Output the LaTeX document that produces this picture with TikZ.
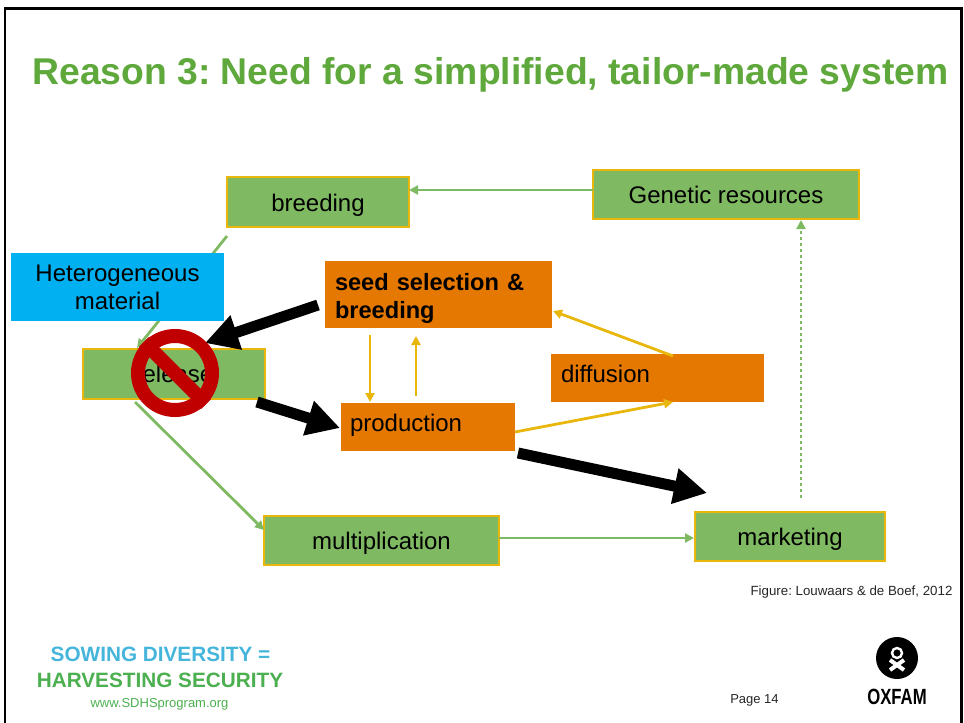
\documentclass[tikz,border=0pt]{standalone}
\usepackage{fontspec}
\setmainfont{Liberation Sans}
\frenchspacing
\usetikzlibrary{arrows.meta}
\definecolor{boxgreen}{HTML}{7FBA63}
\definecolor{boxedge}{HTML}{E9B60C}
\definecolor{boxorange}{HTML}{E57800}
\definecolor{boxblue}{HTML}{00B0F0}
\definecolor{titlegreen}{HTML}{5FA83B}
\definecolor{logoblue}{HTML}{45B5DB}
\definecolor{logogreen}{HTML}{4CAF50}
\definecolor{stopred}{HTML}{C00000}
\newcommand{\movetext}[2]{\raisebox{#1}[\height][\depth]{#2}}
\tikzset{
  plainbox/.style={minimum width=#1, inner sep=0pt, outer sep=0pt, font={\fontsize{24}{28}\selectfont}},
  greenbox/.style={plainbox=#1, fill=boxgreen, draw=boxedge, line width=1.1pt},
  orangebox/.style={plainbox=#1, fill=boxorange, align=left},
  greenline/.style={draw=boxgreen, line width=2.8pt, -{Triangle[length=9pt,width=9pt]}},
  yellowline/.style={draw=boxedge, line width=2.8pt, -{Triangle[length=9pt,width=9pt]}},
  blackarrow/.style={draw=black, line width=11pt, -{Triangle[length=33pt,width=34pt]}}
}
\begin{document}
\begin{tikzpicture}[x=1pt, y=-1pt]
  \useasboundingbox (0,0) rectangle (964,723);

  % Frame
  \draw[line width=2.6pt] (5,723) -- (5,8.5) -- (961.5,8.5) -- (961.5,723);

  % Title
  \node (title) at (490.5,75) {\fontsize{37.3}{42}\selectfont\bfseries\color{titlegreen} Reason 3: Need for a simplified, tailor-made system};

  % Green boxes
  \node[greenbox=182pt, minimum height=50pt] (breeding) at (318,202) {\movetext{-3pt}{breeding}};
  \node[greenbox=266pt, minimum height=49pt] (genetic) at (726,194.5) {Genetic resources};
  \node[greenbox=182pt, minimum height=50pt] (release) at (174,374) {release};
  \node[greenbox=235pt, minimum height=49pt] (multiplication) at (381.5,540.5) {\movetext{-3pt}{multiplication}};
  \node[greenbox=190pt, minimum height=49pt] (marketing) at (790,536.5) {\movetext{-3pt}{marketing}};

  % Green connectors
  \draw[greenline] ([yshift=-9pt]breeding.south west) -- ([xshift=-37pt,yshift=1pt]release.north);
  \draw[greenline] ([xshift=-39pt,yshift=-3pt]release.south) -- ([yshift=10.5pt]multiplication.west);
  \draw[greenline] ([yshift=2.5pt]multiplication.east) -- ([xshift=-1pt,yshift=-1.5pt]marketing.west);
  \draw[greenline, dash pattern=on 3pt off 3pt] ([xshift=11pt,yshift=14pt]marketing.north) -- ([xshift=75pt,yshift=-1pt]genetic.south);
  \draw[greenline] ([yshift=4.5pt]genetic.west) -- ([yshift=12pt]breeding.east);

  % Blue box
  \node[plainbox=213pt, minimum height=68pt, fill=boxblue, align=center] (material) at (117.5,287) {Heterogeneous\\material};

  % Orange boxes
  \node[orangebox=227pt, minimum height=67pt, text width=207pt] (selection) at (438.5,294.5) {\fontsize{23.6}{28}\selectfont\bfseries\movetext{-4pt}{seed selection \&}\\\movetext{-4pt}{breeding}};
  \node[orangebox=213pt, minimum height=48pt, text width=193pt] (diffusion) at (657.5,378) {\movetext{4pt}{diffusion}};
  \node[orangebox=174pt, minimum height=48pt, text width=156pt] (production) at (428,427) {\movetext{2pt}{production}};

  % Yellow connectors
  \draw[yellowline] ([xshift=-68.5pt,yshift=-7pt]selection.south) -- ([xshift=-58pt,yshift=1pt]production.north);
  \draw[yellowline] ([xshift=-12pt,yshift=7pt]production.north) -- ([xshift=-22.5pt,yshift=-8pt]selection.south);
  \draw[yellowline] ([yshift=-5pt]production.east) -- ([xshift=15.5pt]diffusion.south);
  \draw[yellowline] ([xshift=15.5pt,yshift=-2pt]diffusion.north) -- ([xshift=1pt,yshift=-16.5pt]selection.east);

  % Black arrows
  \draw[blackarrow] ([xshift=-7pt,yshift=-10.5pt]selection.west) -- ([xshift=31pt,yshift=6pt]release.north);
  \draw[blackarrow] ([xshift=-8pt,yshift=-3pt]release.south east) -- ([xshift=-1pt,yshift=-1pt]production.west);
  \draw[blackarrow] ([xshift=3pt,yshift=-2pt]production.south east) -- ([xshift=-83pt,yshift=19pt]marketing.north);

  % Stop sign
  \node[circle, draw=stopred, line width=14pt, minimum size=74pt, inner sep=0pt] (stopsign) at (175,373) {};
  \draw[stopred, line width=14pt] (stopsign.north west) -- (stopsign.south east);

  % Figure note and page
  \node[font={\fontsize{13.3}{15}\selectfont}, text=black!85] (figurenote) at (851.5,592) {Figure: Louwaars \& de Boef, 2012};
  \node[font={\fontsize{13}{15}\selectfont}, text=black!85] (pagenumber) at (754.5,700) {Page 14};

  % Program name
  \node[font={\fontsize{20.75}{25}\selectfont\bfseries}, text=logoblue] (sowing) at (160.5,654) {SOWING DIVERSITY =};
  \node[font={\fontsize{20.75}{25}\selectfont\bfseries}, text=logogreen] (harvesting) at (160,680) {HARVESTING SECURITY};
  \node[font={\fontsize{13}{15}\selectfont}, text=logogreen] (website) at (159.5,704) {www.SDHSprogram.org};

  % Logo
  \node[circle, fill=black, minimum size=42pt, inner sep=0pt] (logo) at (897,658) {};
  \draw[white, line width=2.4pt] (897,653) circle[radius=5];
  \draw[white, line width=4pt] (890,660) -- (904,670) (904,660) -- (890,670);
  \node[font={\fontsize{22}{24}\selectfont\bfseries}, xscale=0.76, transform shape] (oxfam) at (897,697) {OXFAM};
\end{tikzpicture}
\end{document}
